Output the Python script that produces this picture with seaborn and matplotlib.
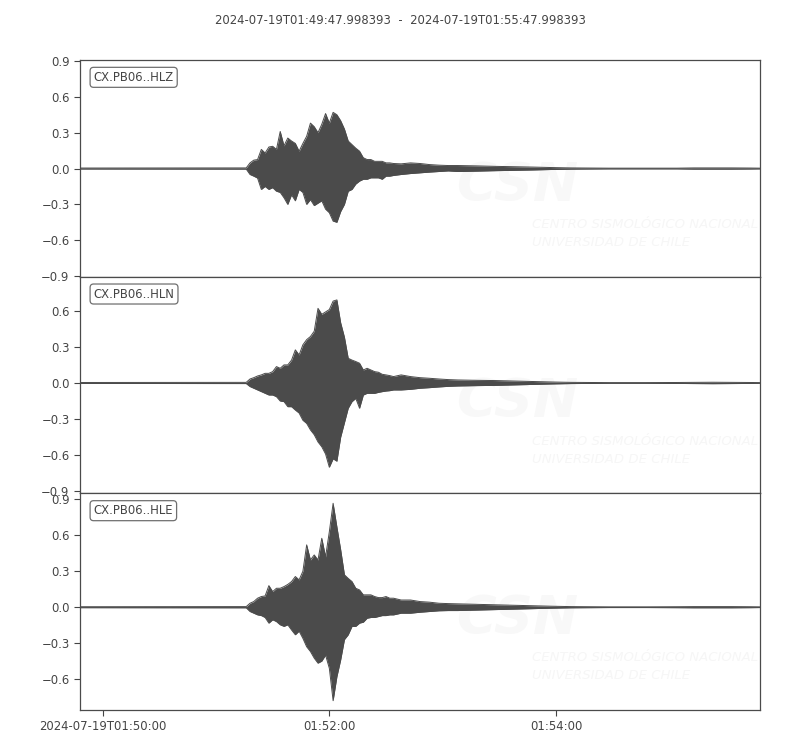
import numpy as np
import pandas as pd
import seaborn as sns
import matplotlib.pyplot as plt

# seconds after 2024-07-19T01:49:47.998393
times = [0, 88, 90, 92, 94, 96, 98, 100, 102, 104, 106, 108, 110, 112, 114, 116, 118, 120,
         122, 124, 126, 128, 130, 132, 134, 136, 138, 140, 142, 144, 146, 148, 150, 152,
         154, 156, 158, 160, 162, 164, 166, 170, 175, 180, 185, 190, 195, 200, 210, 220,
         230, 240, 250, 260, 280, 300, 316, 325, 335, 345, 355, 360]

# envelope (upper / lower) of each trace
hlz_upper = [0.004, 0.005, 0.047, 0.07, 0.075, 0.16, 0.13, 0.18, 0.186, 0.16, 0.31, 0.19, 0.255,
             0.23, 0.21, 0.145, 0.21, 0.27, 0.38, 0.35, 0.30, 0.37, 0.46, 0.38, 0.47, 0.45, 0.40,
             0.33, 0.23, 0.20, 0.17, 0.145, 0.09, 0.075, 0.075, 0.06, 0.06, 0.06, 0.047, 0.047,
             0.042, 0.039, 0.047, 0.042, 0.033, 0.028, 0.025, 0.025, 0.022, 0.018, 0.015, 0.012,
             0.008, 0.005, 0.003, 0.003, 0.003, 0.005, 0.005, 0.005, 0.004, 0.003]
hlz_lower = [-0.004, -0.005, -0.05, -0.064, -0.08, -0.175, -0.15, -0.175, -0.16, -0.19, -0.20,
             -0.245, -0.30, -0.22, -0.27, -0.175, -0.20, -0.30, -0.26, -0.31, -0.29, -0.27, -0.34,
             -0.37, -0.44, -0.45, -0.36, -0.30, -0.19, -0.175, -0.13, -0.105, -0.09, -0.09, -0.078,
             -0.078, -0.078, -0.09, -0.064, -0.064, -0.058, -0.05, -0.042, -0.036, -0.03, -0.025,
             -0.02, -0.025, -0.022, -0.018, -0.015, -0.012, -0.008, -0.005, -0.003, -0.003,
             -0.003, -0.005, -0.005, -0.005, -0.004, -0.003]

hln_upper = [0.004, 0.005, 0.033, 0.044, 0.058, 0.067, 0.08, 0.08, 0.094, 0.136, 0.122, 0.15, 0.15,
             0.19, 0.275, 0.233, 0.317, 0.36, 0.386, 0.43, 0.62, 0.57, 0.59, 0.61, 0.68, 0.69, 0.50,
             0.38, 0.205, 0.19, 0.178, 0.164, 0.108, 0.122, 0.108, 0.094, 0.089, 0.072, 0.067,
             0.061, 0.053, 0.067, 0.053, 0.044, 0.039, 0.033, 0.028, 0.025, 0.022, 0.02, 0.016,
             0.012, 0.008, 0.005, 0.003, 0.003, 0.004, 0.005, 0.006, 0.005, 0.004, 0.003]
hln_lower = [-0.004, -0.005, -0.03, -0.044, -0.058, -0.072, -0.086, -0.1, -0.1, -0.114, -0.15,
             -0.155, -0.197, -0.197, -0.225, -0.25, -0.31, -0.336, -0.39, -0.43, -0.49, -0.53,
             -0.59, -0.70, -0.63, -0.65, -0.45, -0.33, -0.21, -0.155, -0.128, -0.21, -0.1, -0.086,
             -0.086, -0.086, -0.078, -0.072, -0.067, -0.064, -0.058, -0.058, -0.053, -0.044,
             -0.039, -0.033, -0.028, -0.025, -0.022, -0.02, -0.016, -0.012, -0.008, -0.005,
             -0.003, -0.003, -0.004, -0.005, -0.006, -0.005, -0.004, -0.003]

hle_upper = [0.004, 0.005, 0.033, 0.047, 0.075, 0.089, 0.094, 0.18, 0.13, 0.158, 0.158, 0.172, 0.19,
             0.214, 0.256, 0.228, 0.30, 0.52, 0.394, 0.436, 0.394, 0.575, 0.42, 0.63, 0.867, 0.67,
             0.48, 0.27, 0.24, 0.214, 0.158, 0.144, 0.103, 0.103, 0.103, 0.089, 0.08, 0.08, 0.089,
             0.075, 0.075, 0.06, 0.06, 0.047, 0.042, 0.033, 0.03, 0.028, 0.024, 0.02, 0.016,
             0.012, 0.008, 0.005, 0.003, 0.003, 0.004, 0.005, 0.005, 0.005, 0.004, 0.003]
hle_lower = [-0.004, -0.005, -0.036, -0.05, -0.064, -0.07, -0.086, -0.133, -0.105, -0.12, -0.147,
             -0.16, -0.147, -0.19, -0.23, -0.2, -0.26, -0.33, -0.37, -0.425, -0.467, -0.45, -0.40,
             -0.51, -0.78, -0.58, -0.44, -0.27, -0.23, -0.16, -0.16, -0.133, -0.125, -0.092,
             -0.086, -0.086, -0.078, -0.07, -0.07, -0.064, -0.064, -0.05, -0.05, -0.042, -0.036,
             -0.03, -0.028, -0.028, -0.024, -0.02, -0.016, -0.012, -0.008, -0.005, -0.003, -0.003,
             -0.004, -0.005, -0.005, -0.005, -0.004, -0.003]

channels = ["CX.PB06..HLZ", "CX.PB06..HLN", "CX.PB06..HLE"]
ylims = [(-0.905, 0.908), (-0.917, 0.883), (-0.858, 0.95)]
yticks = [-0.9, -0.6, -0.3, 0.0, 0.3, 0.6, 0.9]
xtick_times = [12.001607, 132.001607, 252.001607]
xtick_labels = ["2024-07-19T01:50:00", "01:52:00", "01:54:00"]
title = "2024-07-19T01:49:47.998393  -  2024-07-19T01:55:47.998393"

sns.set_style("ticks")
plt.rcParams["font.family"] = ["DejaVu Sans"]
ink = "#4b4b4b"
txt = "#444444"
fs = 8.4

fig, axes = plt.subplots(3, 1, figsize=(8, 7.5), dpi=100, sharex=True)
fig.subplots_adjust(left=0.1, right=0.95, top=0.92, bottom=0.0533, hspace=0)

envelopes = [(hlz_upper, hlz_lower), (hln_upper, hln_lower), (hle_upper, hle_lower)]
for ax, name, (up, lo), yl in zip(axes, channels, envelopes, ylims):
    df = pd.DataFrame({"time": times, "upper": up, "lower": lo})
    # faint CSN watermark
    ax.text(0.553, 0.42, "CSN", transform=ax.transAxes, fontsize=39, fontweight="bold",
            style="italic", color="#f8f8f8", ha="left", va="center", zorder=0,
            family=["Liberation Sans Narrow", "DejaVu Sans"])
    ax.text(0.665, 0.2, "CENTRO SISMOLÓGICO NACIONAL\nUNIVERSIDAD DE CHILE",
            transform=ax.transAxes, fontsize=9.5, style="italic", color="#f6f6f6",
            family=["Liberation Sans Narrow", "DejaVu Sans"], ha="left", va="center",
            linespacing=1.5, zorder=0)
    ax.fill_between(df["time"], df["lower"], df["upper"], color=ink, lw=0, zorder=2)
    sns.lineplot(data=df, x="time", y="upper", ax=ax, color=ink, lw=0.7, zorder=3)
    sns.lineplot(data=df, x="time", y="lower", ax=ax, color=ink, lw=0.7, zorder=3)
    ax.set_yticks(yticks)
    ax.set_xlim(0, 360)
    ax.set_ylim(*yl)
    ax.set_xlabel("")
    ax.set_ylabel("")
    ax.tick_params(labelsize=fs, colors=txt, length=4, width=0.8)
    for sp in ax.spines.values():
        sp.set_color(ink)
        sp.set_linewidth(0.9)
    ax.text(0.02, 0.95, name, transform=ax.transAxes, fontsize=fs, color=txt,
            ha="left", va="top", zorder=5,
            bbox=dict(boxstyle="round", fc="white", ec=ink, alpha=0.8, lw=0.9))

axes[-1].set_xticks(xtick_times)
axes[-1].set_xticklabels(xtick_labels)
axes[-1].set_xlim(0, 360)
for ax in axes[:-1]:
    ax.tick_params(axis="x", length=0)

fig.text(0.5, 0.973, title, ha="center", va="center", fontsize=fs, color=txt)

fig.savefig("out.png", dpi=100)
